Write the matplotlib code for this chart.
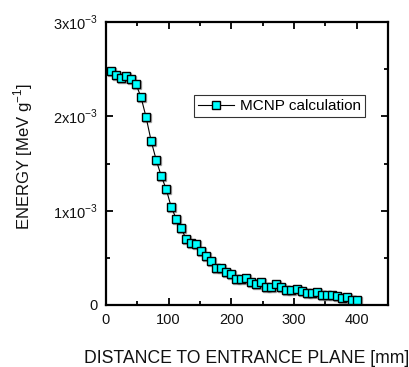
import matplotlib
matplotlib.use("Agg")
import matplotlib.pyplot as plt
import matplotlib.transforms as mtransforms
from matplotlib.ticker import MultipleLocator, FixedLocator

plt.rcParams['font.family'] = ['Liberation Sans', 'DejaVu Sans']
plt.rcParams['mathtext.fontset'] = 'custom'
plt.rcParams['mathtext.rm'] = 'Liberation Sans'

distance_mm = [8, 16, 24, 32, 40, 48, 56, 64, 72, 80, 88, 96, 104, 112, 120, 128,
               136, 144, 152, 160, 168, 176, 184, 192, 200, 208, 216, 224, 232, 240,
               248, 256, 264, 272, 280, 288, 296, 304, 312, 320, 328, 336, 344, 352,
               360, 368, 376, 384, 392, 400]
energy_e3 = [2.48, 2.44, 2.41, 2.43, 2.40, 2.34, 2.20, 1.99, 1.74, 1.54, 1.37, 1.23,
             1.04, 0.915, 0.813, 0.697, 0.657, 0.647, 0.573, 0.52, 0.47, 0.39, 0.396,
             0.347, 0.332, 0.276, 0.272, 0.283, 0.241, 0.226, 0.244, 0.188, 0.188,
             0.22, 0.188, 0.159, 0.162, 0.17, 0.145, 0.124, 0.127, 0.135, 0.106,
             0.106, 0.106, 0.099, 0.071, 0.088, 0.053, 0.053]
energy = [v * 1e-3 for v in energy_e3]

y_ticks = [0, 1e-3, 2e-3, 3e-3]
y_ticklabels = ['0', r'1x10$^{-3}$', r'2x10$^{-3}$', r'3x10$^{-3}$']
x_ticks = [0, 100, 200, 300, 400]
series_label = 'MCNP calculation'

fig = plt.figure(figsize=(4.10, 3.67), dpi=100)
ax = fig.add_axes([106/410, 62/367, 282/410, 283/367])

shadow = ax.transData + mtransforms.ScaledTranslation(1/100, -1/100, fig.dpi_scale_trans)
ax.plot(distance_mm, energy, linestyle='none', marker='s', markersize=6.2,
        markerfacecolor='#8a8a8a', markeredgecolor='#8a8a8a', alpha=0.7,
        transform=shadow, zorder=2)
ax.plot(distance_mm, energy, color='black', linewidth=0.8, marker='s', markersize=6.2,
        markerfacecolor='#00ffff', markeredgecolor='black', markeredgewidth=1.0,
        label=series_label, zorder=3)

ax.set_xlim(0, 450)
ax.set_ylim(0, 3e-3)
ax.xaxis.set_major_locator(FixedLocator(x_ticks))
ax.xaxis.set_minor_locator(MultipleLocator(50))
ax.yaxis.set_major_locator(FixedLocator(y_ticks))
ax.yaxis.set_minor_locator(MultipleLocator(0.5e-3))
ax.set_yticklabels(y_ticklabels)
ax.set_xticklabels([str(t) for t in x_ticks])

ax.tick_params(which='both', direction='in', top=True, right=True, width=1.3,
               labelsize=10.5, pad=6, labelcolor='#111111')
ax.tick_params(which='major', length=5)
ax.tick_params(which='minor', length=3)
for s in ax.spines.values():
    s.set_linewidth(1.6)

ax.set_xlabel('DISTANCE TO ENTRANCE PLANE [mm]', fontsize=12.7, color='#111111')
ax.xaxis.set_label_coords(0.5, -0.158)
ax.set_ylabel(r'ENERGY [MeV g$^{-1}$]', fontsize=12, color='#111111')
ax.yaxis.set_label_coords(-0.252, 0.525)

leg = ax.legend(loc='upper left', bbox_to_anchor=(0.312, 0.741), frameon=True,
                fancybox=False, edgecolor='black', fontsize=11, handlelength=2.4,
                borderpad=0.25, handletextpad=0.35, markerscale=0.85,
                borderaxespad=0)
leg.get_frame().set_linewidth(0.8)

fig.savefig('out.png', dpi=100)
